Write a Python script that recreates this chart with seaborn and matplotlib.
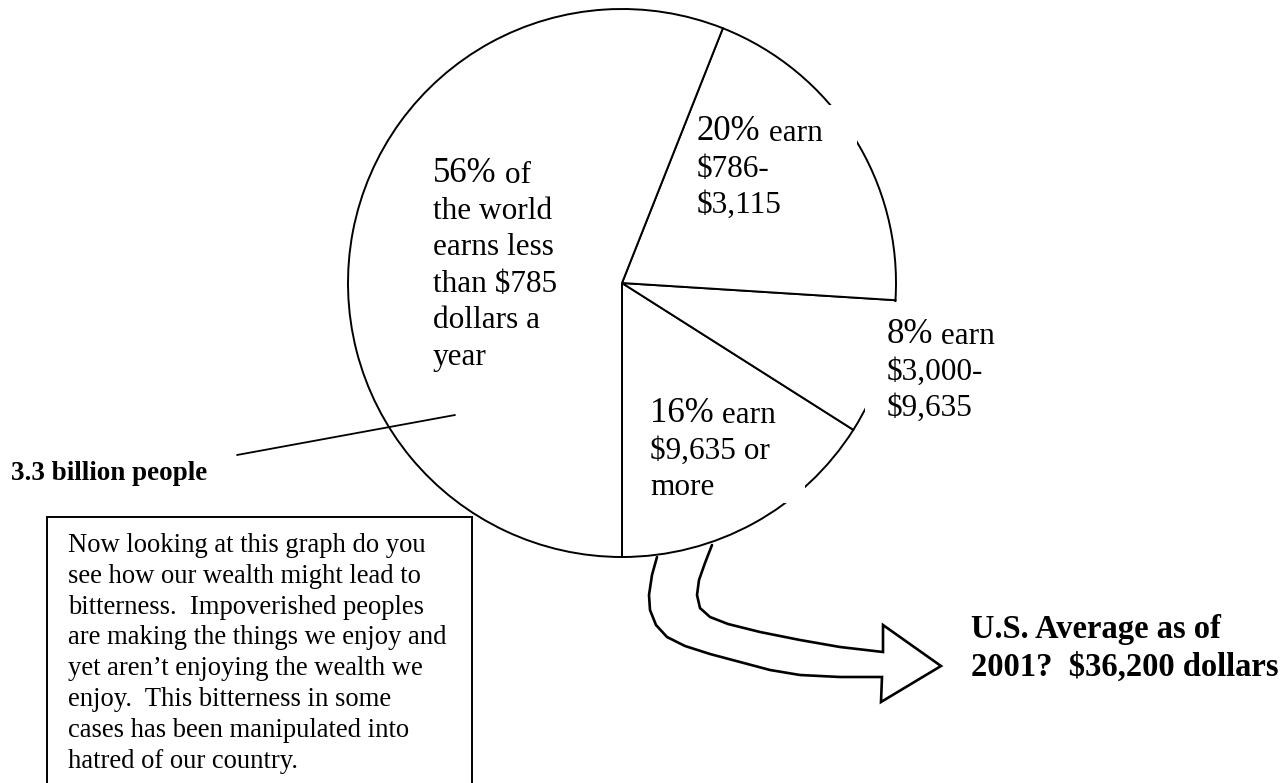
import numpy as np
import matplotlib.pyplot as plt
import seaborn as sns
from matplotlib.patches import Rectangle

# slices, going round counter-clockwise from the bottom of the pie
shares = [16, 8, 20, 56]
pct_text = ["16%", "8%", "20%", "56%"]
pct_tail = [" earn", " earn", " earn", " of"]
more_lines = [
    ["$9,635 or", "more"],
    ["$3,000-", "$9,635"],
    ["$786-", "$3,115"],
    ["the world", "earns less", "than $785", "dollars a", "year"],
]

people_note = "3.3 billion people"
us_note = ["U.S. Average as of", "2001?  $36,200 dollars"]
box_lines = [
    "Now looking at this graph do you",
    "see how our wealth might lead to",
    "bitterness.  Impoverished peoples",
    "are making the things we enjoy and",
    "yet aren\u2019t enjoying the wealth we",
    "enjoy.  This bitterness in some",
    "cases has been manipulated into",
    "hatred of our country.",
]

# layout (pixel positions, y going down)
label_xy = [(650, 422), (887, 343), (697, 140), (433, 182)]
line_step = 36.6

sns.set_theme(style="white")
plt.rcParams['font.family'] = ['Liberation Serif', 'DejaVu Serif']
plt.rcParams['text.color'] = 'black'

fig = plt.figure(figsize=(12.88, 7.83), dpi=100)
ax = fig.add_axes([0, 0, 1, 1])

ax.pie(shares, colors=['white'] * len(shares), startangle=90, counterclock=False,
       center=(622, 283), radius=274, frame=False,
       wedgeprops=dict(edgecolor='black', linewidth=1.4))
ax.set_xlim(0, 1288)
ax.set_ylim(783, 0)
ax.set_aspect('equal')
ax.axis('off')

# white text boxes over the outline, as in the original drawing
for x0, y0, w, h in [(697, 105, 160, 125), (865, 302, 140, 140), (645, 430, 160, 73)]:
    ax.add_patch(Rectangle((x0, y0), w, h, facecolor='white', edgecolor='none', zorder=2))

for (x, y), pct, tail, lines in zip(label_xy, pct_text, pct_tail, more_lines):
    t = ax.text(x, y, pct, fontsize=25, va='baseline', ha='left', zorder=3)
    ax.annotate(tail, xy=(1, 0), xycoords=t, fontsize=22.5, va='bottom', ha='left', zorder=3)
    for i, line in enumerate(lines):
        ax.text(x, y + (i + 1) * line_step, line, fontsize=22.5, va='baseline', ha='left', zorder=3)

# leader line and note
ax.plot([237, 455], [455, 415], color='black', lw=1.3, zorder=3)
ax.text(11, 480, people_note, fontsize=19.5, fontweight='bold', va='baseline', ha='left')

# text box
ax.add_patch(Rectangle((47, 517), 425, 300, facecolor='white', edgecolor='black', lw=1.4, zorder=3))
for i, line in enumerate(box_lines):
    ax.text(68, 552 + i * 30.8, line, fontsize=19.2, va='baseline', ha='left', zorder=4)

# curved block arrow
lower = [(657, 557), (652, 575), (649, 595), (650, 610), (656, 625), (667, 637), (685, 646),
         (710, 654), (740, 662), (770, 670), (800, 675), (840, 677), (882, 677)]
upper = [(712, 545), (705, 563), (699, 580), (697, 595), (700, 608), (710, 617), (728, 624),
         (760, 632), (800, 640), (840, 647), (883, 652)]
head = [(883, 625), (941, 666), (881, 702)]
pts = upper + head + lower[::-1]
ax.plot([p[0] for p in pts], [p[1] for p in pts], color='black', lw=1.9,
        solid_joinstyle='miter', zorder=3)

ax.text(971, 638, us_note[0], fontsize=23.5, fontweight='bold', va='baseline', ha='left')
ax.text(971, 676, us_note[1], fontsize=23.5, fontweight='bold', va='baseline', ha='left')

fig.savefig('out.png', dpi=100, facecolor='white')
